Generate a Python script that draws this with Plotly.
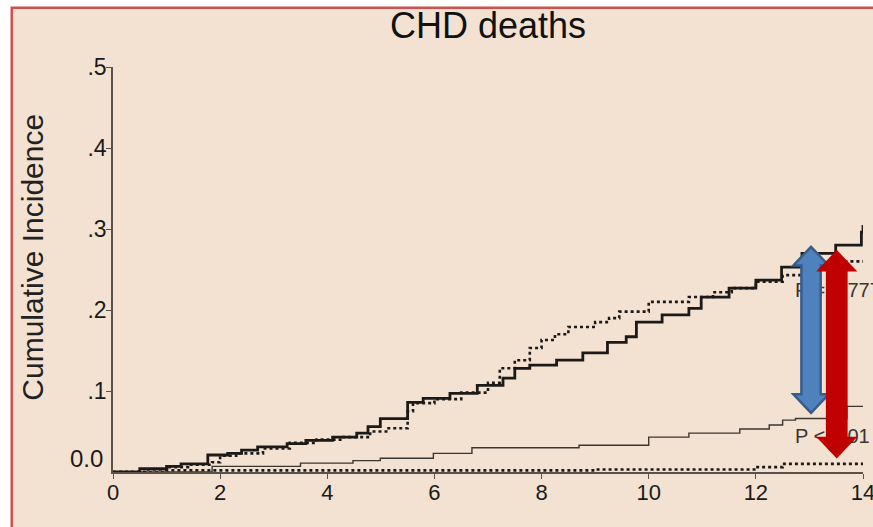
import plotly.graph_objects as go

# ---------------- data ----------------
solid_t = [0, 0.5, 1.0, 1.27, 1.77, 2.14, 2.4, 2.7, 3.25, 3.6, 4.1, 4.55, 4.76, 4.99,
           5.5, 5.79, 6.29, 6.8, 7.28, 7.5, 7.78, 8.28, 8.77, 9.23, 9.58, 9.77, 10.25,
           10.75, 10.98, 11.5, 12.0, 12.48, 12.86, 13.49, 13.97, 14.0]
solid_v = [0, 0.004, 0.007, 0.010, 0.021, 0.023, 0.027, 0.031, 0.035, 0.039, 0.043, 0.048,
           0.056, 0.066, 0.086, 0.091, 0.097, 0.107, 0.116, 0.128, 0.132, 0.138, 0.147,
           0.160, 0.167, 0.185, 0.194, 0.202, 0.216, 0.227, 0.237, 0.253, 0.270, 0.280,
           0.296, 0.305]

dotted_t = [0, 0.6, 1.0, 1.4, 1.85, 2.0, 2.3, 2.8, 3.3, 3.8, 4.3, 4.8, 5.1, 5.5, 5.6,
            6.0, 6.5, 7.0, 7.22, 7.5, 7.78, 8.0, 8.25, 8.5, 9.0, 9.26, 9.45, 10.0, 10.75,
            11.2, 11.55, 12.0, 12.5, 13.0, 13.5, 14.0]
dotted_v = [0, 0.003, 0.006, 0.009, 0.012, 0.020, 0.023, 0.029, 0.036, 0.040, 0.043,
            0.050, 0.054, 0.075, 0.085, 0.090, 0.098, 0.110, 0.128, 0.138, 0.153, 0.163,
            0.170, 0.179, 0.185, 0.190, 0.198, 0.210, 0.216, 0.222, 0.227, 0.235, 0.243,
            0.252, 0.260, 0.260]

thin_t = [0, 1.85, 3.5, 4.48, 4.99, 5.98, 6.7, 8.7, 10.0, 10.75, 11.7, 12.25, 12.5,
          12.74, 13.7, 14.0]
thin_v = [0, 0.007, 0.011, 0.014, 0.017, 0.023, 0.030, 0.033, 0.043, 0.048, 0.053,
          0.058, 0.064, 0.066, 0.081, 0.081]

low_t = [0, 1.0, 9.0, 12.0, 12.5, 14.0]
low_v = [0, 0.002, 0.003, 0.006, 0.010, 0.010]

x_ticks = [0, 2, 4, 6, 8, 10, 12, 14]
y_ticks = [0.1, 0.2, 0.3, 0.4, 0.5]
y_ticklabels = [".1", ".2", ".3", ".4", ".5"]

p_labels = ["P = 0.777", "P < .001"]
p_x = [12.73, 12.73]
p_y = [0.222, 0.042]

# arrows: (centre x, top tip, bottom tip, fill, outline)
blue_arrow = (13.03, 0.278, 0.073, "#4F81BD", "#385D8A")
red_arrow = (13.51, 0.272, 0.019, "#C00000", "#C00000")

BG = "#F3E2D1"
FONT = "Liberation Sans, Arial, sans-serif"
INK = "#1c1a18"

fig = go.Figure()

fig.add_trace(go.Scatter(x=low_t, y=low_v, mode="lines", line_shape="hv",
                         line=dict(color=INK, width=2.6, dash="dot"), cliponaxis=False))
fig.add_trace(go.Scatter(x=thin_t, y=thin_v, mode="lines", line_shape="hv",
                         line=dict(color="#3a3632", width=1.4), cliponaxis=False))
fig.add_trace(go.Scatter(x=dotted_t, y=dotted_v, mode="lines", line_shape="hv",
                         line=dict(color=INK, width=2.6, dash="dot"), cliponaxis=False))
fig.add_trace(go.Scatter(x=solid_t, y=solid_v, mode="lines", line_shape="hv",
                         line=dict(color=INK, width=2.8), cliponaxis=False))
fig.add_trace(go.Scatter(x=p_x, y=p_y, mode="text", text=p_labels,
                         textposition="middle right", cliponaxis=False,
                         textfont=dict(family=FONT, size=20, color="#3a3632")))


def arrow_path(cx, top, bot, sw=0.18, hw=0.33, hl=0.023):
    pts = [(cx, top), (cx + hw, top - hl), (cx + sw, top - hl), (cx + sw, bot + hl),
           (cx + hw, bot + hl), (cx, bot), (cx - hw, bot + hl), (cx - sw, bot + hl),
           (cx - sw, top - hl), (cx - hw, top - hl)]
    return "M " + " L ".join(f"{x},{y}" for x, y in pts) + " Z"


shapes = [
    # slide background with red frame
    dict(type="rect", xref="paper", yref="paper", x0=-0.135, x1=1.2, y0=-0.3, y1=1.146,
         fillcolor=BG, line=dict(color="#D0504D", width=2.5), layer="below"),
]
for cx, top, bot, fill, edge in (blue_arrow, red_arrow):
    shapes.append(dict(type="path", path=arrow_path(cx, top, bot), xref="x", yref="y",
                       fillcolor=fill, line=dict(color=edge, width=2.5), layer="above"))

annotations = [
    dict(text="CHD deaths", xref="paper", yref="paper", x=0.5, y=1.102,
         xanchor="center", yanchor="middle", showarrow=False,
         font=dict(family=FONT, size=36, color="#111111")),
    dict(text="Cumulative Incidence", xref="paper", yref="paper", x=-0.107, y=0.531,
         xanchor="center", yanchor="middle", textangle=-90, showarrow=False,
         font=dict(family=FONT, size=30, color="#222222")),
    dict(text="0.0", xref="paper", yref="y", x=-0.011, y=0, xanchor="right",
         yanchor="middle", yshift=14, showarrow=False,
         font=dict(family=FONT, size=24, color="#1a1a1a")),
]

fig.update_layout(
    width=873, height=527,
    margin=dict(l=113, r=10, t=67, b=55),
    paper_bgcolor="white", plot_bgcolor="rgba(0,0,0,0)",
    showlegend=False,
    shapes=shapes,
    annotations=annotations,
    xaxis=dict(range=[0, 14], tickvals=x_ticks, ticks="outside", ticklen=5,
               tickcolor="#5a524a", showline=True, linecolor="#5a524a", linewidth=1.5,
               showgrid=False, zeroline=False, ticklabeloverflow="allow",
               ticklabelstandoff=-5, automargin=False,
               tickfont=dict(family=FONT, size=22, color="#1a1a1a")),
    yaxis=dict(range=[0, 0.5], tickvals=y_ticks, ticktext=y_ticklabels, ticks="outside",
               ticklen=5, tickcolor="#5a524a", showline=True, linecolor="#5a524a",
               linewidth=1.5, showgrid=False, zeroline=False, ticklabelstandoff=-5,
               automargin=False,
               tickfont=dict(family=FONT, size=23, color="#1a1a1a")),
)

fig.write_html("out.html")
